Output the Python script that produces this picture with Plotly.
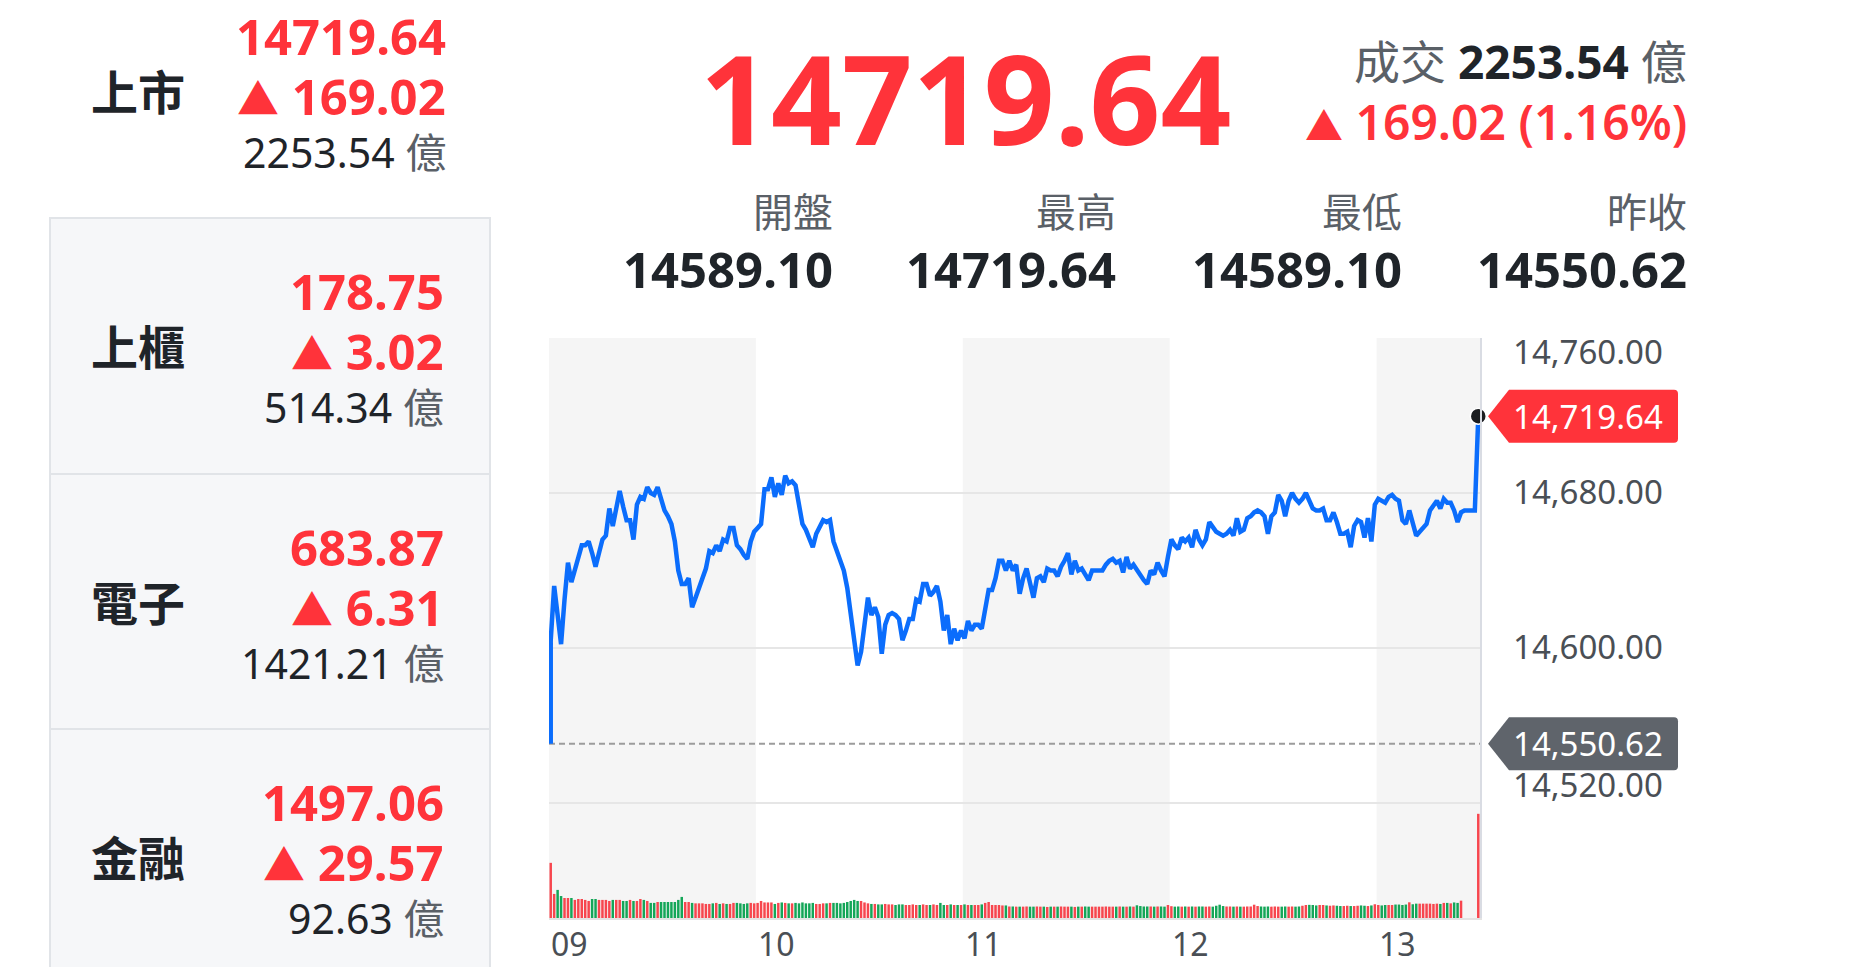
import plotly.graph_objects as go

# ---------------- data ----------------
markets = ["上市", "上櫃", "電子", "金融"]
index_vals = [14719.64, 178.75, 683.87, 1497.06]
index_chg = [169.02, 3.02, 6.31, 29.57]
turnover = [2253.54, 514.34, 1421.21, 92.63]

last_price = 14719.64
last_chg = 169.02
last_pct = 1.16
stat_names = ["開盤", "最高", "最低", "昨收"]
stat_vals = [14589.10, 14719.64, 14589.10, 14550.62]
prev_close = 14550.62

hour_labels = ["09", "10", "11", "12", "13"]
hour_minutes = [0, 60, 120, 180, 240]
band_start_min = [0, 120, 240]
band_end_min = [60, 180, 270]
y_ticks = [14760, 14680, 14600, 14520]

# one value per minute slot from 09:00 (last slot = 13:30 close)
prices = [
    14604, 14632, 14615, 14602, 14625, 14644, 14634, 14641, 14648, 14653,
    14653, 14655, 14649, 14642, 14649, 14656, 14658, 14672, 14663, 14673,
    14681, 14673, 14666, 14666, 14656, 14674, 14678, 14677, 14683, 14680,
    14679, 14683, 14676, 14671, 14668, 14664, 14655, 14640, 14633, 14633,
    14636, 14621, 14626, 14631, 14636, 14641, 14650, 14649, 14653, 14650,
    14656, 14655, 14662, 14662, 14653, 14651, 14648, 14646, 14655, 14660,
    14662, 14664, 14682, 14682, 14688, 14678, 14685, 14679, 14689, 14685,
    14686, 14684, 14674, 14664, 14661, 14656, 14652, 14659, 14663, 14666,
    14665, 14666, 14655, 14650, 14645, 14640, 14631, 14617, 14602, 14591,
    14598, 14612, 14626, 14617, 14621, 14616, 14597, 14612, 14617, 14618,
    14617, 14615, 14604, 14609, 14615, 14615, 14625, 14624, 14633, 14633,
    14627, 14629, 14632, 14624, 14609, 14617, 14602, 14610, 14604, 14609,
    14605, 14614, 14609, 14612, 14612, 14610, 14621, 14630, 14630, 14636,
    14645, 14645, 14640, 14645, 14640, 14643, 14628, 14636, 14641, 14634,
    14626, 14636, 14637, 14634, 14641, 14640, 14640, 14637, 14642, 14645,
    14649, 14638, 14645, 14640, 14641, 14638, 14635, 14640, 14640, 14640,
    14640, 14643, 14645, 14646, 14644, 14645, 14639, 14647, 14641, 14643,
    14640, 14637, 14635, 14633, 14640, 14638, 14644, 14640, 14637, 14647,
    14656, 14653, 14651, 14657, 14655, 14657, 14652, 14661, 14656, 14653,
    14656, 14665, 14662, 14660, 14659, 14658, 14659, 14661, 14658, 14667,
    14660, 14661, 14667, 14668, 14670, 14671, 14670, 14668, 14659, 14668,
    14670, 14679, 14676, 14668, 14676, 14680, 14677, 14675, 14677, 14680,
    14676, 14672, 14671, 14671, 14672, 14666, 14666, 14670, 14665, 14659,
    14659, 14660, 14652, 14663, 14666, 14665, 14657, 14667, 14655, 14674,
    14677, 14676, 14675, 14678, 14679, 14677, 14676, 14666, 14664, 14671,
    14665, 14658, 14660, 14662, 14664, 14671, 14674, 14676, 14672, 14677,
    14675, 14675, 14671, 14665, 14670, 14671, 14671, 14671, 14671, 14719.64,
]

# volume per minute (億), first slots up to 13:25, plus the 13:30 closing auction
volumes = [
    36.9, 16.1, 18.8, 14.7, 13.4, 13.4, 13.4, 12.1, 12.7, 12.7,
    12.1, 11.4, 12.7, 12.7, 12.1, 12.1, 12.1, 11.4, 12.1, 12.1,
    12.1, 11.4, 11.4, 12.1, 11.4, 11.4, 12.7, 12.1, 11.4, 10.1,
    10.1, 10.7, 10.7, 10.7, 10.7, 10.7, 10.7, 12.1, 14.1, 10.7,
    10.7, 10.1, 9.8, 9.8, 9.8, 9.4, 9.4, 9.8, 10.1, 9.4,
    9.8, 9.4, 9.4, 10.1, 10.1, 9.8, 9.4, 9.8, 10.1, 9.8,
    10.1, 11.4, 10.4, 10.4, 10.4, 9.4, 10.1, 10.4, 10.1, 9.8,
    9.8, 10.1, 9.8, 10.4, 9.8, 9.8, 10.1, 9.4, 9.4, 9.8,
    9.8, 10.1, 10.1, 10.1, 9.8, 10.1, 10.7, 11.4, 12.1, 11.4,
    11.4, 10.4, 9.8, 9.4, 9.4, 9.1, 9.1, 9.4, 9.1, 9.1,
    8.7, 9.1, 9.1, 8.7, 8.7, 9.1, 8.7, 8.7, 9.1, 8.7,
    8.7, 9.1, 8.7, 10.1, 8.7, 8.7, 9.1, 8.7, 8.7, 8.7,
    9.1, 8.7, 8.7, 8.7, 8.7, 9.1, 10.1, 10.7, 8.7, 8.7,
    8.7, 8.4, 8.4, 7.7, 7.7, 7.6, 7.6, 7.6, 7.7, 7.6,
    7.6, 7.7, 7.6, 7.6, 7.4, 7.6, 7.6, 7.6, 7.7, 7.6,
    7.6, 7.6, 7.4, 7.6, 7.6, 7.7, 7.6, 7.6, 7.6, 7.6,
    7.6, 7.7, 7.6, 7.6, 7.6, 7.7, 7.6, 7.6, 7.7, 7.6,
    8.5, 8.0, 7.7, 7.7, 7.7, 7.6, 7.7, 7.7, 7.6, 8.7,
    7.9, 7.6, 7.7, 7.6, 7.7, 7.6, 7.7, 7.6, 7.7, 7.7,
    7.6, 7.7, 7.6, 8.2, 8.9, 8.0, 7.7, 7.7, 7.6, 7.7,
    7.6, 7.6, 7.7, 7.7, 8.9, 8.0, 7.7, 7.6, 7.7, 7.6,
    7.7, 7.6, 7.6, 7.7, 7.6, 7.7, 7.6, 7.7, 8.2, 8.7,
    8.8, 8.7, 8.4, 8.7, 8.7, 8.4, 8.2, 8.4, 8.2, 8.0,
    8.0, 8.2, 8.0, 8.0, 8.2, 8.4, 8.2, 8.0, 8.4, 9.2,
    8.7, 8.4, 8.7, 8.7, 8.7, 9.0, 9.0, 8.7, 9.0, 10.5,
    9.2, 9.6, 9.6, 9.6, 9.6, 9.6, 9.4, 9.6, 9.4, 10.1,
    10.1, 9.8, 10.4, 10.1, 11.6,
]
close_volume = 69.7

# ---------------- styles ----------------
W, H = 1849, 967
RED = "#ff333a"
GREEN = "#14a658"
BAR_RED = "#f7464e"
DARK = "#1f2429"
GRAY = "#5a6067"
FONT = "Noto Sans, Noto Sans CJK TC, sans-serif"


def px(x):
    return x / W


def py(y):
    return 1 - y / H


n_slots = len(prices)
close_slot = n_slots - 1
vol_slots = list(range(len(volumes))) + [close_slot]
vol_vals = volumes + [close_volume]


def bar_color(i):
    ref = prev_close if i == 0 else prices[i - 1]
    return BAR_RED if prices[i] >= ref else GREEN


bar_colors = [bar_color(i) for i in vol_slots]

fig = go.Figure()

fig.add_trace(go.Scatter(
    x=[0] + list(range(n_slots)), y=[prev_close] + prices,
    mode="lines", line=dict(color="#0b6dfc", width=4.5),
    yaxis="y", hoverinfo="skip", showlegend=False,
))

fig.add_trace(go.Bar(
    x=vol_slots, y=vol_vals, marker=dict(color=bar_colors, line=dict(width=0)),
    width=0.72, yaxis="y2", hoverinfo="skip", showlegend=False,
))

x_lo, x_hi = -0.5, close_slot + 0.5

shapes = []
# left panel
shapes.append(dict(type="rect", xref="paper", yref="paper", x0=px(50), x1=px(490),
                   y0=py(990), y1=py(218), fillcolor="#f6f7f9",
                   line=dict(color="#e1e4e8", width=2), layer="below"))
for yy in [474, 729]:
    shapes.append(dict(type="line", xref="paper", yref="paper", x0=px(50), x1=px(490),
                       y0=py(yy), y1=py(yy), line=dict(color="#e1e4e8", width=2),
                       layer="below"))
# session bands
for s, e in zip(band_start_min, band_end_min):
    shapes.append(dict(type="rect", xref="x", yref="y domain", x0=s - 0.5, x1=e - 0.5,
                       y0=0, y1=1, fillcolor="#f5f5f5", line=dict(width=0), layer="below"))
# previous close dashed line
shapes.append(dict(type="line", xref="x", x0=x_lo, x1=x_hi, yref="y",
                   y0=prev_close, y1=prev_close, layer="below",
                   line=dict(color="#9c9c9c", width=2, dash="6px,4px")))
# price tags (anchored at the right edge of the plot, at the price level)
tag_path = "M 8,0 L 29,26.5 L 194,26.5 Q 198,26.5 198,22.5 L 198,-22.5 Q 198,-26.5 194,-26.5 L 29,-26.5 Z"
for val, col in [(prices[-1], "#ff333a"), (prev_close, "#5f646b")]:
    shapes.append(dict(type="path", xref="x domain", yref="y", xsizemode="pixel",
                       ysizemode="pixel", xanchor=1, yanchor=val, path=tag_path,
                       fillcolor=col, line=dict(width=0), layer="above"))

ann = []


def text(x, y, t, size, color, anchor="right", bold=False, weight=None):
    f = dict(family=FONT, size=size, color=color)
    if weight is not None:
        f["weight"] = weight
    elif bold:
        f["weight"] = "bold"
    ann.append(dict(xref="paper", yref="paper", x=px(x), y=py(y), text=t,
                    showarrow=False, xanchor=anchor, yanchor="middle", font=f))


# left panel rows
row_tops = [-37, 218, 474, 729]
row_right = [448, 446, 446, 446]
for name, v, c, t, top, rx in zip(markets, index_vals, index_chg, turnover, row_tops, row_right):
    text(89, top + 129, name, 47, DARK, anchor="left", bold=True)
    text(rx, top + 73, f"{v:.2f}", 49, RED, bold=True)
    text(rx, top + 133, f"<span style='font-size:42px'>▲</span> {c:.2f}", 49, RED, bold=True)
    text(rx, top + 189, f"{t:.2f} <span style='color:{GRAY}'>億</span>", 41, DARK)

# header
text(1233, 96, f"{last_price:.2f}", 124, RED, bold=True)
text(1689, 61, f"成交 <span style='color:{DARK}'><b>{turnover[0]:.2f}</b></span> 億", 46, GRAY)
text(1689, 122, f"<span style='font-size:38px'>▲</span> {last_chg:.2f} ({last_pct:.2f}%)",
     48, RED, weight=600)
for name, v, rx in zip(stat_names, stat_vals, [835, 1118, 1404, 1689]):
    text(rx, 212, name, 40, GRAY)
    text(rx, 269, f"{v:.2f}", 49, DARK, bold=True)

# y labels
y_shift = {14760: -13, 14680: 2, 14600: 2, 14520: 19}
for v in y_ticks:
    ann.append(dict(xref="x domain", yref="y", x=1, y=v, xanchor="left", yanchor="middle",
                    xshift=31, yshift=y_shift[v], text=f"{v:,.2f}", showarrow=False,
                    font=dict(family=FONT, size=33, color="#4a4f55")))
# price tag texts
for val in [prices[-1], prev_close]:
    ann.append(dict(xref="x domain", yref="y", x=1, y=val, xanchor="left", yanchor="middle",
                    xshift=31, text=f"{val:,.2f}", showarrow=False,
                    font=dict(family=FONT, size=33, color="white")))
# x labels
for lab, m in zip(hour_labels, hour_minutes):
    ann.append(dict(xref="x", yref="paper", x=m - 0.5, y=py(943), xanchor="left",
                    yanchor="middle", text=lab, showarrow=False,
                    font=dict(family=FONT, size=32, color="#4a4f55")))

fig.update_layout(
    width=W, height=H, margin=dict(l=0, r=0, t=0, b=0),
    paper_bgcolor="white", plot_bgcolor="white",
    shapes=shapes, annotations=ann, showlegend=False,
    xaxis=dict(domain=[px(549), px(1480)], range=[x_lo, x_hi],
               showgrid=False, zeroline=False, showticklabels=False, ticks="",
               showline=True, linecolor="#e3e3e3", linewidth=2, fixedrange=True),
    yaxis=dict(domain=[py(918), py(338)], range=[14460.65, 14760], side="right",
               tickmode="linear", tick0=14520, dtick=80, showgrid=True,
               gridcolor="#e6e6e6", gridwidth=2, showticklabels=False, ticks="",
               zeroline=False, showline=True, linecolor="#d9dce3", linewidth=2,
               fixedrange=True),
    yaxis2=dict(overlaying="y", range=[0, 388], visible=False, fixedrange=True),
)

# last-price dot drawn last so it sits on top
fig.add_trace(go.Scatter(
    x=[close_slot], y=[prices[-1]], mode="markers",
    marker=dict(size=16, color="#1b1d20", line=dict(color="white", width=1.5)),
    yaxis="y", cliponaxis=False, hoverinfo="skip", showlegend=False,
))

fig.write_html("out.html", config={"displayModeBar": False},
               post_script="document.body.style.margin='0';document.body.style.padding='0';")
